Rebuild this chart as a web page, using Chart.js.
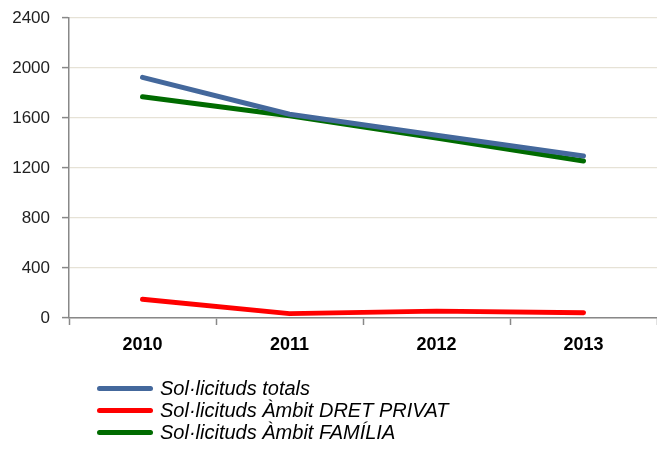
<!DOCTYPE html>
<html>
<head>
<meta charset="utf-8">
<script src="https://cdn.jsdelivr.net/npm/chart.js@4/dist/chart.umd.min.js"></script>
<style>
  html, body { margin: 0; padding: 0; background: #fff; }
  #wrap { position: relative; width: 657px; height: 449px; }
  #legend { position: absolute; left: 97px; top: 377px; font-family: 'Liberation Sans', Arial, sans-serif; font-style: italic; font-size: 20px; color: #000; }
  .item { display: flex; align-items: center; height: 22px; }
  .swatch { width: 56px; height: 5px; border-radius: 3px; margin-right: 7px; }
</style>
</head>
<body>
<div id="wrap">
  <canvas id="c" width="657" height="449"></canvas>
  <div id="legend"></div>
</div>
<script>
const categories = ['2010', '2011', '2012', '2013'];
const seriesNames = ['Sol·licituds totals', 'Sol·licituds Àmbit DRET PRIVAT', 'Sol·licituds Àmbit FAMÍLIA'];
const totals = [1925, 1630, 1462, 1296];
const dretPrivat = [150, 35, 55, 42];
const familia = [1770, 1618, 1440, 1256];
const yTicks = [0, 400, 800, 1200, 1600, 2000, 2400];
const colors = ['#44689c', '#ff0000', '#006b00'];

const seriesData = [totals, dretPrivat, familia];
const datasets = seriesNames.map((name, i) => ({
  label: name,
  data: seriesData[i],
  borderColor: colors[i],
  backgroundColor: colors[i],
  borderWidth: 5,
  borderCapStyle: 'round',
  borderJoinStyle: 'round',
  pointRadius: 0,
  tension: 0,
  fill: false
}));

const chart = new Chart(document.getElementById('c'), {
  type: 'line',
  data: { labels: categories, datasets: datasets },
  options: {
    responsive: false,
    animation: false,
    layout: { padding: { left: 0, right: 0, top: 0, bottom: 0 } },
    plugins: { legend: { display: false }, tooltip: { enabled: false } },
    scales: {
      x: {
        offset: true,
        grid: { offset: true, drawOnChartArea: false, drawTicks: true, tickLength: 7, tickColor: '#888888', tickWidth: 1.5 },
        border: { color: '#888888', width: 1.5 },
        ticks: { font: { family: "'Liberation Sans', Arial, sans-serif", size: 18, weight: 'bold' }, color: '#000', padding: 9, maxRotation: 0 },
        afterFit: (s) => { s.height = 131; }
      },
      y: {
        min: 0, max: 2400,
        afterBuildTicks: (s) => { s.ticks = yTicks.map(v => ({ value: v })); },
        grid: { color: '#e6e2d6', lineWidth: 1.2, drawTicks: true, tickLength: 7, tickColor: '#888888', tickWidth: 1.5 },
        border: { color: '#888888', width: 1.5 },
        ticks: { font: { family: "'Liberation Sans', Arial, sans-serif", size: 17 }, color: '#222', padding: 12, callback: (v) => String(v) },
        afterFit: (s) => { s.width = 69; s.paddingTop = 18; }
      }
    }
  }
});

const legend = document.getElementById('legend');
datasets.forEach(ds => {
  const row = document.createElement('div');
  row.className = 'item';
  const sw = document.createElement('span');
  sw.className = 'swatch';
  sw.style.background = ds.borderColor;
  const tx = document.createElement('span');
  tx.textContent = ds.label;
  row.appendChild(sw);
  row.appendChild(tx);
  legend.appendChild(row);
});
</script>
</body>
</html>
